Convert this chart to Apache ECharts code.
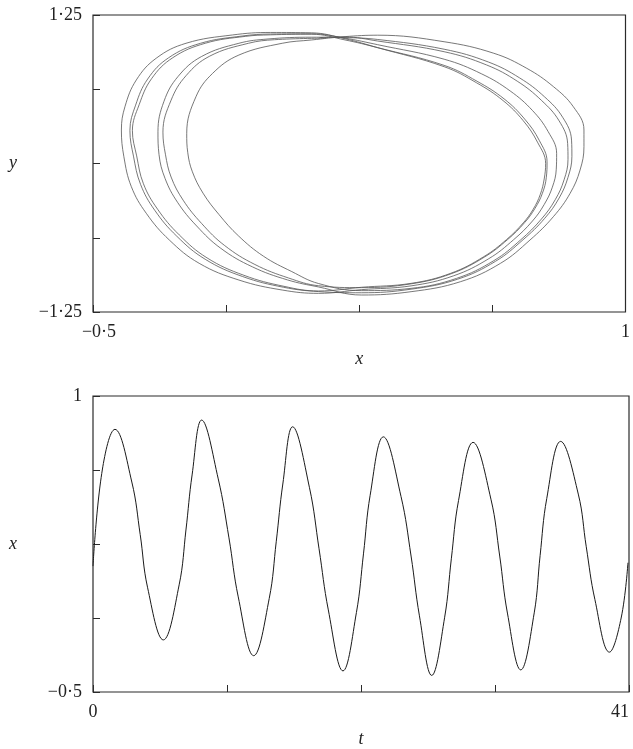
<!DOCTYPE html>
<html>
<head>
<meta charset="utf-8">
<script src="https://cdn.jsdelivr.net/npm/echarts@6.0.0/dist/echarts.min.js"></script>
<style>
  html, body { margin: 0; padding: 0; background: #ffffff; }
  #chart { width: 633px; height: 749px; }
</style>
</head>
<body>
<div id="chart"></div>
<script>
// Phase-plane orbit (x, y), traced swing by swing in time order.
// "rise" = upper arc (left turning point -> right turning point),
// "fall" = lower arc (right turning point -> left turning point).
const rise0 = [[0.138,1.06],[0.21,1.065],[0.302,1.031],[0.489,0.941],[0.609,0.829],[0.695,0.693],[0.763,0.532],[0.813,0.359],[0.837,0.169]];
const fall1 = [[0.838,0.033],[0.827,-0.137],[0.802,-0.305],[0.763,-0.468],[0.705,-0.642],[0.629,-0.818],[0.524,-0.967],[0.396,-1.051],[0.256,-1.07],[0.135,-1.01],[0.06,-0.91],[-0.02,-0.78],[-0.09,-0.61],[-0.145,-0.43],[-0.19,-0.25],[-0.22,-0.07],[-0.233,0.09]];
const rise1 = [[-0.236,0.254],[-0.21,0.562],[-0.163,0.759],[-0.089,0.913],[0.033,1.012],[0.116,1.04],[0.21,1.068],[0.302,1.08],[0.489,1.025],[0.629,0.928],[0.722,0.801],[0.797,0.647],[0.853,0.478],[0.883,0.282]];
const fall2 = [[0.883,0.142],[0.872,-0.055],[0.844,-0.251],[0.797,-0.447],[0.731,-0.644],[0.648,-0.84],[0.535,-0.995],[0.396,-1.079],[0.256,-1.107],[0.135,-1.039],[0.048,-0.98],[-0.051,-0.87],[-0.14,-0.714],[-0.208,-0.526],[-0.262,-0.326],[-0.297,-0.126],[-0.314,0.075]];
const rise2 = [[-0.317,0.267],[-0.30,0.524],[-0.260,0.734],[-0.194,0.901],[-0.089,1.012],[-0.007,1.048],[0.116,1.063],[0.21,1.06],[0.302,1.044],[0.489,0.962],[0.614,0.854],[0.702,0.72],[0.772,0.561],[0.823,0.389],[0.848,0.197]];
const fall3 = [[0.849,0.06],[0.838,-0.117],[0.813,-0.291],[0.772,-0.463],[0.711,-0.643],[0.634,-0.823],[0.527,-0.974],[0.396,-1.058],[0.256,-1.088],[0.135,-1.078],[0.037,-1.042],[-0.079,-0.951],[-0.184,-0.806],[-0.264,-0.612],[-0.326,-0.394],[-0.366,-0.176],[-0.386,0.062]];
const rise3 = [[-0.396,0.278],[-0.38,0.491],[-0.346,0.711],[-0.287,0.89],[-0.197,1.012],[-0.080,1.073],[0.0,1.09],[0.116,1.092],[0.21,1.055],[0.302,1.0],[0.489,0.878],[0.595,0.754],[0.675,0.611],[0.738,0.446],[0.782,0.269],[0.806,0.085]];
const fall4 = [[0.805,-0.048],[0.794,-0.199],[0.771,-0.345],[0.738,-0.484],[0.685,-0.641],[0.615,-0.801],[0.516,-0.945],[0.396,-1.03],[0.256,-1.062],[0.135,-1.093],[0.033,-1.065],[-0.089,-0.981],[-0.201,-0.840],[-0.285,-0.644],[-0.350,-0.419],[-0.392,-0.195],[-0.413,0.057]];
const rise4 = [[-0.420,0.282],[-0.410,0.478],[-0.378,0.703],[-0.322,0.886],[-0.238,1.012],[-0.107,1.082],[0.0,1.103],[0.116,1.1],[0.21,1.05],[0.302,0.975],[0.489,0.815],[0.58,0.68],[0.655,0.53],[0.712,0.36],[0.752,0.18],[0.775,0.0]];
const fall5 = [[0.771,-0.13],[0.76,-0.26],[0.74,-0.385],[0.712,-0.5],[0.665,-0.64],[0.601,-0.784],[0.508,-0.924],[0.396,-1.009],[0.256,-1.042],[0.135,-1.073],[0.038,-1.034],[-0.075,-0.941],[-0.179,-0.794],[-0.257,-0.601],[-0.318,-0.385],[-0.358,-0.17],[-0.377,0.064]];
const rise5 = [[-0.389,0.276],[-0.37,0.495],[-0.335,0.714],[-0.275,0.891],[-0.184,1.012],[-0.071,1.07],[0.0,1.083],[0.116,1.088],[0.21,1.04],[0.302,0.975],[0.489,0.826],[0.582,0.692],[0.658,0.544],[0.716,0.374],[0.757,0.195],[0.779,0.014]];
const fall6 = [[0.777,-0.116],[0.766,-0.25],[0.745,-0.378],[0.716,-0.497],[0.668,-0.64],[0.603,-0.787],[0.509,-0.928],[0.396,-1.013],[0.256,-1.045],[0.135,-1.029],[0.051,-0.964],[-0.044,-0.85],[-0.129,-0.691],[-0.194,-0.505],[-0.246,-0.309],[-0.28,-0.114],[-0.296,0.078]];
const rise6 = [[-0.303,0.264],[-0.28,0.533],[-0.238,0.739],[-0.171,0.904],[-0.062,1.012],[0.011,1.042],[0.155,1.055]];

// Time series x(t): turning points plus quarter-, half- and three-quarter-swing crossings
const timeSamples = [0, 0.71, 1.68, 2.97, 3.61, 4.17, 5.38, 6.59, 7.11, 7.58, 8.31, 9.58, 10.40, 11.11, 12.29, 13.48, 14.02, 14.52, 15.27, 16.56, 17.29, 18.0, 19.12, 20.15, 20.69, 21.2, 22.21, 23.56, 24.33, 24.97, 25.91, 26.9, 27.41, 27.96, 29.07, 30.44, 31.11, 31.70, 32.72, 33.75, 34.20, 34.71, 35.77, 37.12, 37.73, 38.39, 39.5, 40.4, 40.92];
const xSamples    = [0.138, 0.625, 0.831, 0.564, 0.298, 0.031, -0.236, 0.043, 0.321, 0.6, 0.878, 0.58, 0.281, -0.018, -0.316, -0.026, 0.264, 0.554, 0.844, 0.535, 0.226, -0.084, -0.393, -0.097, 0.2, 0.497, 0.793, 0.491, 0.189, -0.114, -0.416, -0.121, 0.175, 0.47, 0.765, 0.477, 0.189, -0.1, -0.388, -0.099, 0.191, 0.481, 0.770, 0.503, 0.236, -0.031, -0.298, -0.125, 0.155];

// Axis ticks and labels
const phaseXTicks = [-0.5, -0.125, 0.25, 0.625, 1];
const phaseYTicks = [-1.25, -0.625, 0, 0.625, 1.25];
const timeTicks   = [0, 10.25, 20.5, 30.75, 41];
const seriesYTicks = [-0.5, -0.125, 0.25, 0.625, 1];
const phaseXLabelValues = [-0.5, 1];     const phaseXLabels = ['{m|\u22120\u00b75}', '1'];
const phaseYLabelValues = [-1.25, 1.25]; const phaseYLabels = ['\u22121\u00b725', '1\u00b725'];
const timeLabelValues = [0, 41];         const timeLabels = ['0', '41'];
const seriesYLabelValues = [-0.5, 1];    const seriesYLabels = ['\u22120\u00b75', '1'];

const orbit = [].concat(rise0, fall1, rise1, fall2, rise2, fall3, rise3, fall4, rise4, fall5, rise5, fall6, rise6);
const trace = timeSamples.map((t, i) => [t, xSamples[i]]);

const FONT = '"Liberation Serif", "Times New Roman", serif';
const INK = '#2b2b2b';

function pick(values, labels) {
  return v => { const i = values.indexOf(v); return i < 0 ? '' : labels[i]; };
}

function xAxisFor(grid, min, max, ticks, labelValues, labels, name, extraLabel) {
  return {
    gridIndex: grid, type: 'value', min: min, max: max,
    axisLine: { show: false, onZero: false },
    splitLine: { show: false },
    axisTick: { show: true, inside: true, length: 7, customValues: ticks, lineStyle: { color: INK, width: 1 } },
    axisLabel: Object.assign({ customValues: labelValues, formatter: pick(labelValues, labels),
      fontFamily: FONT, fontSize: 18, color: '#222', margin: 11,
      rich: { m: { fontFamily: FONT, fontSize: 18, color: '#222', padding: [0, 0, 0, 12] } } }, extraLabel || {}),
    name: name, nameLocation: 'middle', nameGap: 38,
    nameTextStyle: { fontFamily: FONT, fontStyle: 'italic', fontSize: 18, color: '#222' }
  };
}

function yAxisFor(grid, min, max, ticks, labelValues, labels, name) {
  return {
    gridIndex: grid, type: 'value', min: min, max: max,
    axisLine: { show: false, onZero: false },
    splitLine: { show: false },
    axisTick: { show: true, inside: true, length: 7, customValues: ticks, lineStyle: { color: INK, width: 1 } },
    axisLabel: { customValues: labelValues, formatter: pick(labelValues, labels),
      fontFamily: FONT, fontSize: 18, color: '#222', margin: 11 },
    name: name, nameLocation: 'middle', nameGap: 76, nameRotate: 0,
    nameTextStyle: { fontFamily: FONT, fontStyle: 'italic', fontSize: 18, color: '#222' }
  };
}

const chart = echarts.init(document.getElementById('chart'), null, { renderer: 'canvas' });
chart.setOption({
  animation: false,
  backgroundColor: '#ffffff',
  grid: [
    { left: 93, top: 15, width: 536, height: 297, show: true, borderColor: INK, borderWidth: 1.2, backgroundColor: 'transparent' },
    { left: 93, top: 396, width: 536, height: 297, show: true, borderColor: INK, borderWidth: 1.2, backgroundColor: 'transparent' }
  ],
  xAxis: [
    xAxisFor(0, -0.5, 1, phaseXTicks, phaseXLabelValues, phaseXLabels, 'x'),
    xAxisFor(1, 0, 41, timeTicks, timeLabelValues, timeLabels, 't', { alignMaxLabel: 'right' })
  ],
  yAxis: [
    yAxisFor(0, -1.25, 1.25, phaseYTicks, phaseYLabelValues, phaseYLabels, 'y'),
    yAxisFor(1, -0.5, 1, seriesYTicks, seriesYLabelValues, seriesYLabels, 'x')
  ],
  series: [
    { type: 'line', xAxisIndex: 0, yAxisIndex: 0, data: orbit, symbol: 'none', smooth: 0.4,
      lineStyle: { color: '#555555', width: 0.8 } },
    { type: 'line', xAxisIndex: 1, yAxisIndex: 1, data: trace, symbol: 'none', smooth: 0.4,
      lineStyle: { color: '#1a1a1a', width: 1 } }
  ]
});
</script>
</body>
</html>
